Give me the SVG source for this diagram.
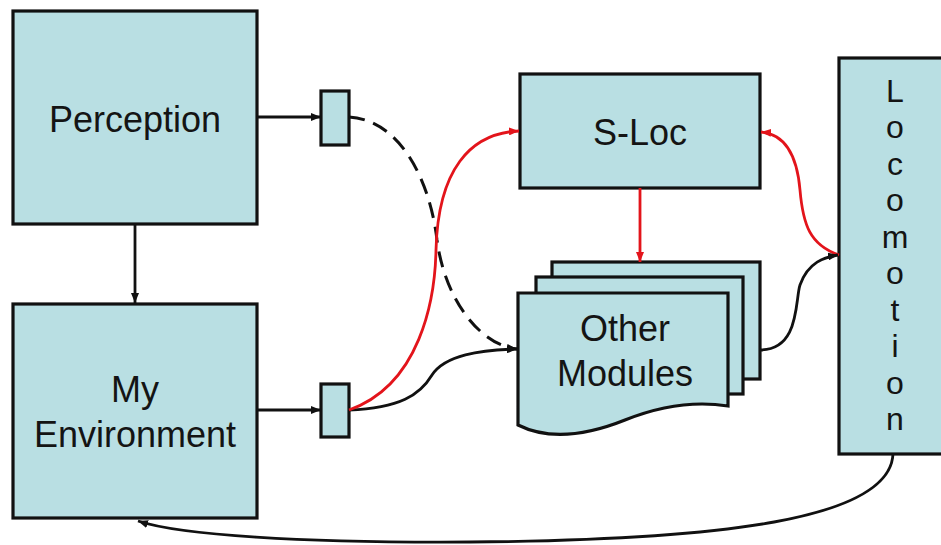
<svg xmlns="http://www.w3.org/2000/svg" width="941" height="545" viewBox="0 0 941 545">
  <style>
    .box { fill: #b9dfe3; stroke: #111; stroke-width: 3.2; }
    .label { font-family: "Liberation Sans", Arial, sans-serif; font-size: 36px; fill: #141414; text-anchor: middle; }
    .letter { font-size: 32px; }
    .wire { fill: none; stroke: #111; stroke-width: 2.8; }
    .red { fill: none; stroke: #e3141b; stroke-width: 2.8; }
    .dash { fill: none; stroke: #111; stroke-width: 3; stroke-dasharray: 16 9; }
  </style>
  <defs>
    <marker id="arrowBlack" viewBox="0 0 10 8" refX="10" refY="4" markerWidth="10" markerHeight="8" markerUnits="userSpaceOnUse" orient="auto">
      <path d="M0,0 L10,4 L0,8 Z" fill="#111"/>
    </marker>
    <marker id="arrowRed" viewBox="0 0 10 8" refX="10" refY="4" markerWidth="10" markerHeight="8" markerUnits="userSpaceOnUse" orient="auto">
      <path d="M0,0 L10,4 L0,8 Z" fill="#e3141b"/>
    </marker>
  </defs>
  <rect width="941" height="545" fill="#fff"/>

  <g id="perception">
    <rect class="box" x="13" y="11" width="244" height="213"/>
    <text class="label" x="135" y="132">Perception</text>
  </g>

  <g id="my-environment">
    <rect class="box" x="13" y="304" width="244" height="214"/>
    <text class="label" x="135" y="402">My</text>
    <text class="label" x="135" y="447">Environment</text>
  </g>

  <g id="buffer-top">
    <rect class="box" x="321" y="91" width="28" height="54"/>
  </g>

  <g id="buffer-bottom">
    <rect class="box" x="321" y="384" width="28" height="53"/>
  </g>

  <g id="s-loc">
    <rect class="box" x="520" y="74" width="240" height="114"/>
    <text class="label" x="640" y="145">S-Loc</text>
  </g>

  <g id="other-modules">
    <rect class="box" x="552" y="262" width="208" height="117"/>
    <rect class="box" x="536" y="277" width="207" height="117"/>
    <path class="box" d="M518,293 H728 V406 C690,400 655,408 625,420 C590,434 550,441 518,425 Z"/>
    <text class="label" x="625" y="341">Other</text>
    <text class="label" x="625" y="386">Modules</text>
  </g>

  <g id="locomotion">
    <rect class="box" x="839" y="58" width="115" height="396"/>
    <text class="label letter" x="895" y="102">L</text>
    <text class="label letter" x="895" y="138.4">o</text>
    <text class="label letter" x="895" y="174.9">c</text>
    <text class="label letter" x="895" y="211.3">o</text>
    <text class="label letter" x="895" y="247.8">m</text>
    <text class="label letter" x="895" y="284.2">o</text>
    <text class="label letter" x="895" y="320.6">t</text>
    <text class="label letter" x="895" y="357.1">i</text>
    <text class="label letter" x="895" y="393.5">o</text>
    <text class="label letter" x="895" y="430">n</text>
  </g>

  <g id="connectors">
    <line class="wire" x1="257" y1="117" x2="321" y2="117" marker-end="url(#arrowBlack)"/>
    <line class="wire" x1="257" y1="410" x2="321" y2="410" marker-end="url(#arrowBlack)"/>
    <line class="wire" x1="135" y1="224" x2="135" y2="303" marker-end="url(#arrowBlack)"/>
    <path class="dash" d="M349,117 C400,120 430,180 437,240 C445,300 480,345 517,349" marker-end="url(#arrowBlack)"/>
    <path class="wire" d="M349,410 C400,408 420,395 432,375 C445,355 480,350 517,349" marker-end="url(#arrowBlack)"/>
    <path class="red" d="M349,410 C420,385 435,300 436,250 C438,170 470,133 519,131" marker-end="url(#arrowRed)"/>
    <line class="red" x1="640" y1="188" x2="640" y2="262" marker-end="url(#arrowRed)"/>
    <path class="red" d="M839,255 C810,245 803,225 800,190 C797,155 785,134 761,132" marker-end="url(#arrowRed)"/>
    <path class="wire" d="M760,350 C800,350 795,300 800,285 C808,262 825,257 838,255" marker-end="url(#arrowBlack)"/>
    <path class="wire" d="M893,454 C890,520 720,540 470,542 C300,543 180,535 138,521" marker-end="url(#arrowBlack)"/>
  </g>
</svg>
